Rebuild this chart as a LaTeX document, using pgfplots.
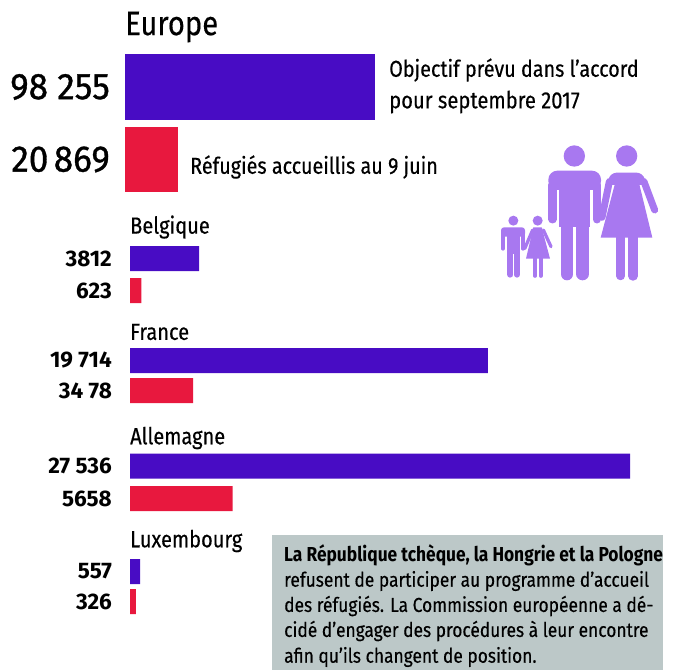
\documentclass[border=0pt]{standalone}
\usepackage{fontspec}
\setmainfont{Fira Sans}[FakeStretch=0.86]
\newfontfamily\chiffres{Fira Sans}[FakeStretch=0.95]
\newfontfamily\nombres{Fira Sans}[FakeStretch=1.0]
\usepackage{pgfplots}
\pgfplotsset{compat=1.18}
\definecolor{objectif}{RGB}{72,12,196}
\definecolor{accueil}{RGB}{232,24,62}
\definecolor{silhouette}{RGB}{168,120,240}
\definecolor{encadre}{RGB}{188,200,200}
\newcommand{\fs}[1]{\fontsize{#1pt}{#1pt}\selectfont\addfontfeature{FakeBold=0.35}}
\newcommand{\fsb}[1]{\fontsize{#1pt}{#1pt}\selectfont\bfseries}
\newcommand{\fsn}[1]{\nombres\fontsize{#1pt}{#1pt}\selectfont\bfseries}
\newcommand{\fsc}[1]{\chiffres\fontsize{#1pt}{#1pt}\selectfont\addfontfeature{FakeBold=0.9}}
\pgfplotsset{
  rangee/.style={
    xbar, bar shift=0pt, scale only axis, height=670pt,
    xmin=0, ymin=0, ymax=670, y dir=reverse, clip=false,
    axis line style={draw=none}, xtick=\empty, major tick length=0pt,
    yticklabel style={anchor=east, inner sep=0pt},
  },
}
\begin{document}
\begin{tikzpicture}[x=1pt,y=1pt]
\path[use as bounding box] (0,0) rectangle (677,670);

% encadre gris
\fill[encadre] (272,0) rectangle (663,135);

% ensemble de l'Europe
\begin{axis}[rangee, at={(125pt,0pt)}, anchor=south west,
  width=250pt, xmax=98255, bar width=65.5pt,
  ytick={87,159.5}, yticklabels={98 255,20\kern-4pt\ 869},
  yticklabel style={xshift=-15pt, font=\fsc{37}}]
\addplot[fill=objectif, draw=none] coordinates {(98255,87)};
\addplot[fill=accueil, draw=none] coordinates {(20869,159.5)};
\node[anchor=west, inner sep=0pt, font=\fs{34}] at (axis cs:0,27) {Europe};
\end{axis}

% pays
\begin{axis}[rangee, at={(130pt,0pt)}, anchor=south west,
  width=500pt, xmax=27536, bar width=25pt,
  ytick={258.5,290.5,360.5,390.5,466,498.5,571.5,601.5},
  yticklabels={3812,623,19 714,34 78,27 536,5658,557,326},
  yticklabel style={xshift=-18pt, font=\fsn{22.5}}]
\addplot[fill=objectif, draw=none] coordinates
  {(3812,258.5) (19714,360.5) (27536,466) (557,571.5)};
\addplot[fill=accueil, draw=none] coordinates
  {(623,290.5) (3478,390.5) (5658,498.5) (326,601.5)};
\foreach \nom/\y in {Belgique/227,France/332,Allemagne/438,Luxembourg/541}{
  \edef\temp{\noexpand\node[anchor=west, inner sep=0pt, font=\noexpand\fs{23.3}] at (axis cs:0,\y) {\nom};}
  \temp
}
\end{axis}

% legendes
\node[anchor=west, inner sep=0pt, font=\fs{23}] at (389,600) {Objectif prévu dans l’accord};
\node[anchor=west, inner sep=0pt, font=\fs{23.5}] at (389,568) {pour septembre 2017};
\node[anchor=west, inner sep=0pt, font=\fs{23}] at (190,503) {Réfugiés accueillis au 9 juin};

% texte de l'encadre
\node[anchor=west, inner sep=0pt, font=\fsb{20.2}] at (284,115) {La République tchèque, la Hongrie et la Pologne};
\foreach \ligne/\y in {{refusent de participer au programme d’accueil}/89,
  {des réfugiés. La Commission européenne a dé-}/64,
  {cidé d’engager des procédures à leur encontre}/39,
  {afin qu’ils changent de position.}/13}{
  \node[anchor=west, inner sep=0pt, font=\fs{20.2}] at (284,\y) {\ligne};
}

% famille
\begin{scope}[shift={(490,540)},x=0.33333pt,y=-0.33333pt,
    fill=silhouette,draw=silhouette,line cap=round]
  % homme
  \fill (253,78) circle[radius=10.67pt];
  \fill[rounded corners=9pt] (175,122) -- (333,122) -- (333,180) -- (175,180) -- cycle;
  \fill (208,150) rectangle (300,290);
  \draw[line width=8.3pt] (187.5,165) -- (187.5,268);
  \draw[line width=8.3pt] (320.5,165) -- (320.5,268);
  \draw[line width=12.7pt] (231,270) -- (231,432);
  \draw[line width=12.7pt] (278,270) -- (278,432);
  % femme
  \fill (410,78) circle[radius=10.67pt];
  \fill[rounded corners=6pt] (362,128) -- (458,128) -- (470,165) -- (350,165) -- cycle;
  \fill (383,130) -- (440,130) -- (487,323) -- (332,323) -- cycle;
  \draw[line width=7pt] (358,155) -- (336,262);
  \draw[line width=7pt] (462,155) -- (494,240);
  \draw[line width=8.5pt] (392,320) -- (392,438);
  \draw[line width=9.5pt] (429,320) -- (429,438);
  % garcon
  \fill (70,272) circle[radius=5pt];
  \fill[rounded corners=3pt] (33,292) -- (105,292) -- (105,320) -- (33,320) -- cycle;
  \fill (50,300) rectangle (90,372);
  \draw[line width=4pt] (39,308) -- (39,356);
  \draw[line width=4pt] (99,308) -- (99,356);
  \draw[line width=6pt] (61,365) -- (61,434);
  \draw[line width=6pt] (81,365) -- (81,434);
  % fille
  \fill (143,272) circle[radius=5pt];
  \fill (130,292) -- (155,292) -- (180,386) -- (108,386) -- cycle;
  \draw[line width=3.3pt] (128,300) -- (104,356);
  \draw[line width=3.3pt] (160,300) -- (183,350);
  \draw[line width=3.7pt] (135,386) -- (135,438);
  \draw[line width=3.7pt] (152,386) -- (152,438);
\end{scope}
\end{tikzpicture}
\end{document}
